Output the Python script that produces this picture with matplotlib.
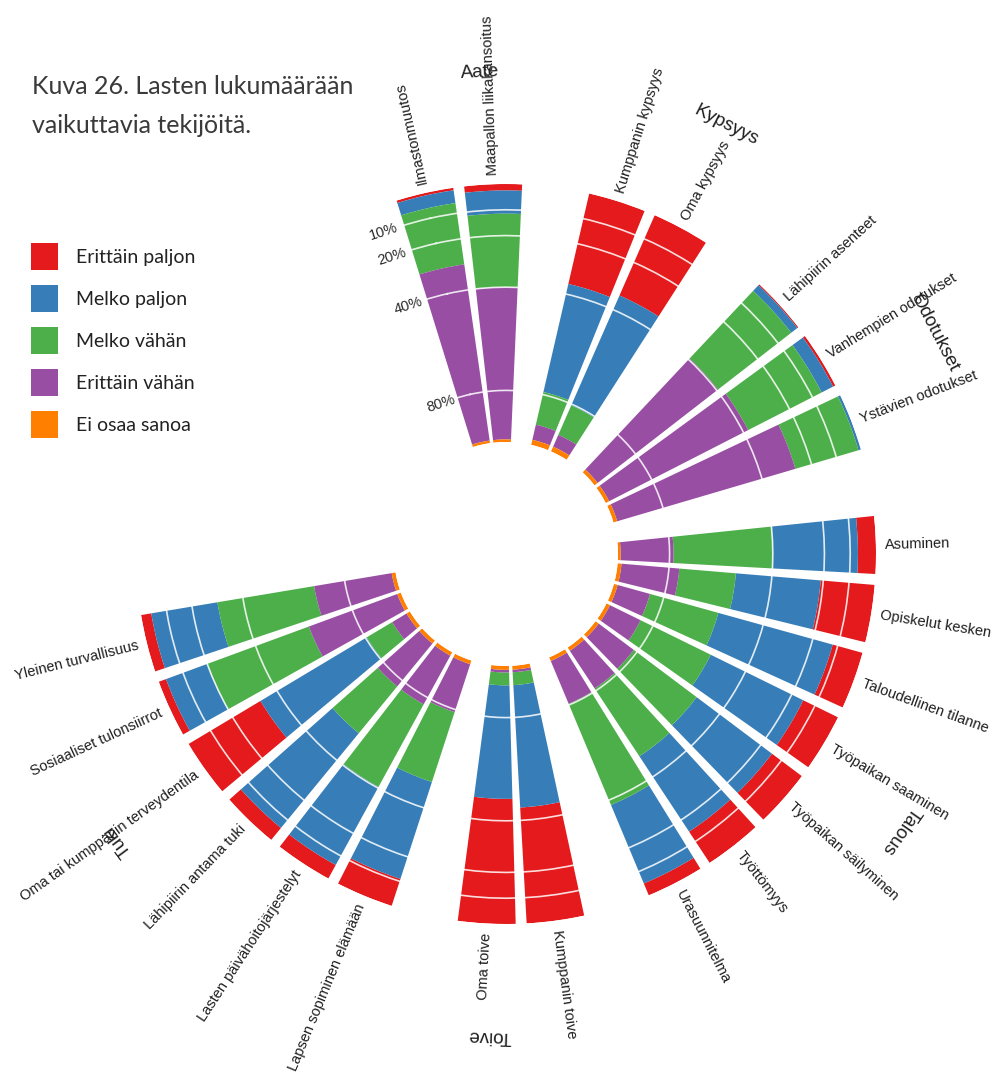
import numpy as np
import matplotlib
matplotlib.use("Agg")
import matplotlib.pyplot as plt
from matplotlib.patches import Patch

# ---------------- data ----------------
groups = ["Aate", "Kypsyys", "Odotukset", "Talous", "Toive", "Tuki"]
group_items = [
    ["Ilmastonmuutos", "Maapallon liikakansoitus"],
    ["Kumppanin kypsyys", "Oma kypsyys"],
    ["Lähipiirin asenteet", "Vanhempien odotukset", "Ystävien odotukset"],
    ["Asuminen", "Opiskelut kesken", "Taloudellinen tilanne", "Työpaikan saaminen",
     "Työpaikan säilyminen", "Työttömyys", "Urasuunnitelma"],
    ["Kumppanin toive", "Oma toive"],
    ["Lapsen sopiminen elämään", "Lasten päivähoitojärjestelyt", "Lähipiirin antama tuki",
     "Oma tai kumppanin terveydentila", "Sosiaaliset tulonsiirrot", "Yleinen turvallisuus"],
]
series_names = ["Erittäin paljon", "Melko paljon", "Melko vähän", "Erittäin vähän", "Ei osaa sanoa"]
series_colors = ["#E41A1C", "#377EB8", "#4DAF4A", "#984EA3", "#FF7F00"]

erittain_paljon = [1, 2.5, 36, 34, 0.5, 1, 0, 7, 21, 12, 15, 14.5, 14.5, 5, 45, 48.5,
                   11, 6, 6, 32.5, 3, 4]
melko_paljon = [5, 9, 43, 46.5, 3, 5, 1, 33, 33, 46, 40, 36.5, 35, 33, 47.5, 44,
                39.5, 34.5, 47.5, 48, 17, 26]
melko_vahan = [24, 28.5, 13, 12.5, 36, 32, 25.5, 38.5, 22, 27.5, 30.3, 30.5, 31.5, 42.5, 5, 5,
               28.5, 36.5, 23.5, 11.5, 42, 38]
erittain_vahan = [69, 59, 6, 5, 59, 60.5, 72, 20.5, 22.5, 13, 13.2, 17, 17.5, 18, 1, 1,
                  19.5, 21.5, 21.5, 6.5, 36.5, 30.5]
ei_osaa_sanoa = [1, 1, 2, 2, 1.5, 1.5, 1.5, 1, 1.5, 1.5, 1.5, 1.5, 1.5, 1.5, 1.5, 1.5,
                 1.5, 1.5, 1.5, 1.5, 1.5, 1.5]
series = [erittain_paljon, melko_paljon, melko_vahan, erittain_vahan, ei_osaa_sanoa]

radial_ticks = [10, 20, 40, 80]
title = "Kuva 26. Lasten lukumäärään\nvaikuttavia tekijöitä."

# ---------------- layout ----------------
W, H = 996, 1078
cx, cy, R = 506, 554, 370
OFFSET = 102.7         # math angle (deg) of first bar
STEP, GAP = 10.7, 19.5 # angular spacing within / between groups
BAR_W = 9.0

thetas, names, group_thetas = [], [], []
pos = 0.0
for gi, items in enumerate(group_items):
    if gi > 0:
        pos += GAP - STEP
    gt = []
    for it in items:
        thetas.append(pos)
        names.append(it)
        gt.append(pos)
        pos += STEP
    group_thetas.append(gt)
thetas = np.array(thetas)

fig = plt.figure(figsize=(W / 100, H / 100), dpi=100)
fig.patch.set_facecolor("white")
ax = fig.add_axes([(cx - R) / W, (H - cy - R) / H, 2 * R / W, 2 * R / H], projection="polar")
ax.set_theta_direction(-1)
ax.set_theta_offset(np.deg2rad(OFFSET))
ax.set_ylim(100, 0)
ax.set_rorigin(100 + 100 * 112 / (R - 112))
ax.patch.set_visible(False)
for s in ax.spines.values():
    s.set_visible(False)
    s.set_linewidth(0)
    s.set_edgecolor("none")

bottom = np.zeros(len(thetas))
for vals, col in zip(series, series_colors):
    vals = np.array(vals, dtype=float)
    ax.bar(np.deg2rad(thetas), vals, bottom=bottom, width=np.deg2rad(BAR_W),
           color=col, edgecolor="none", align="center", zorder=1)
    bottom += vals

ax.set_xticks([])
ax.set_yticks(radial_ticks)
ax.set_yticklabels([])
ax.tick_params(axis="y", length=0)
ax.set_axisbelow(False)
ax.yaxis.grid(True, color="white", lw=1.2, alpha=0.85)

lab_font = "Liberation Sans"
# bar labels
for th, nm in zip(thetas, names):
    math_ang = OFFSET - th
    if math_ang < -90:
        rot, ha = math_ang + 180, "right"
    else:
        rot, ha = math_ang, "left"
    ax.text(np.deg2rad(th), -3.5, nm, rotation=rot, rotation_mode="anchor",
            ha=ha, va="center", fontsize=10.5, family=lab_font, color="#1e1e1e")

# group labels
for g, gt in zip(groups, group_thetas):
    th = np.mean(gt) + 4.3
    math_ang = OFFSET - th
    ax.text(np.deg2rad(th), -43.5, g, rotation=math_ang - 90, rotation_mode="anchor",
            ha="center", va="center", fontsize=13.5, family=lab_font, color="#1e1e1e")

# radial tick labels
for t in radial_ticks:
    ax.text(np.deg2rad(-5.6), t, f"{t}%", rotation=18, rotation_mode="anchor",
            ha="right", va="center", fontsize=10.5, family=lab_font, color="#2a2a2a")

# title
fig.text(32 / W, 1 - 75 / H, title, ha="left", va="top", fontsize=18,
         family="Lato", color="#3a3a3a", linespacing=1.85)

# legend
fs_leg = 14
fs_px = fs_leg * 100 / 72
hh = (27 / fs_px - 0.245) / 0.65
handles = [Patch(facecolor=c, edgecolor="none", label=n) for n, c in zip(series_names, series_colors)]
leg = fig.legend(handles=handles, loc="upper left", bbox_to_anchor=(31 / W, 1 - 243 / H),
                 frameon=False, handlelength=27 / fs_px, handleheight=hh,
                 labelspacing=15 / fs_px, handletextpad=18 / fs_px, borderpad=0, borderaxespad=0,
                 prop={"family": "Lato", "size": fs_leg})
for t in leg.get_texts():
    t.set_color("#222222")

fig.savefig("out.png", dpi=100, facecolor="white")
